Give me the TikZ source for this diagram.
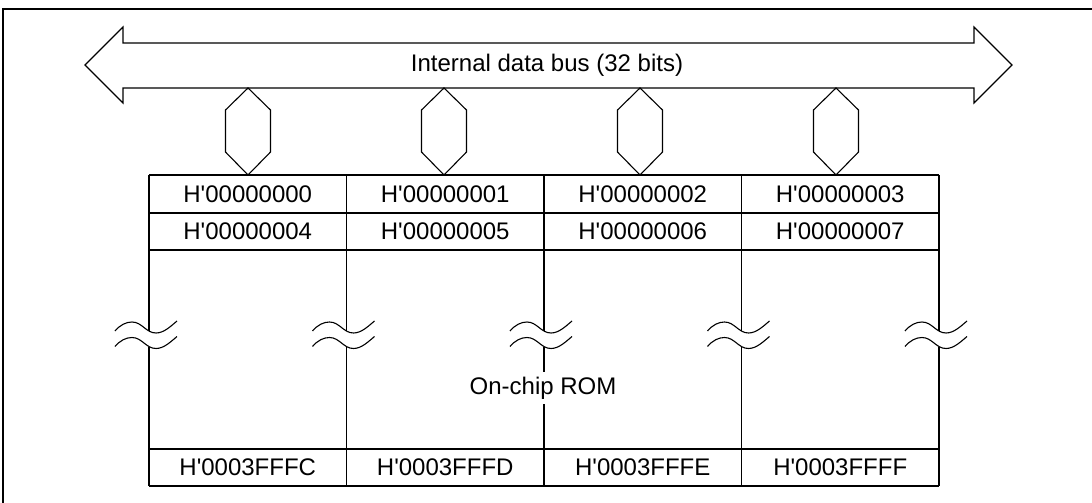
\documentclass[tikz,border=0pt]{standalone}
\usepackage{fontspec}
\setmainfont{Liberation Sans}[Ligatures=TeXOff]
\begin{document}
\begin{tikzpicture}[x=1pt,y=-1pt,
  line/.style={line width=1.1pt,line join=miter},
  lbl/.style={font=\fontsize{24}{28}\selectfont,inner sep=0pt,anchor=center},
  ]
\useasboundingbox (0,0) rectangle (1092,503);
% frame
\draw[line] (3,503) -- (3,9) -- (1092,9);
% bus arrow
\draw[line] (85,65) -- (123,27) -- (123,43) -- (974,43) -- (974,27) -- (1012,65)
  -- (974,103) -- (974,88) -- (123,88) -- (123,103) -- cycle;
\node[lbl] (bus) at (547,65) {Internal data bus (32 bits)};
% hexagon connectors
\foreach \cx in {248,444,640,836}{
  \draw[line] (\cx,88) -- (\cx+22.5,110) -- (\cx+22.5,152) -- (\cx,175)
    -- (\cx-22.5,152) -- (\cx-22.5,110) -- cycle;
}
% table horizontal lines
\foreach \yy in {175,213,250,449,486}{
  \draw[line] (149,\yy) -- (939,\yy);
}
% vertical lines in top rows and bottom row
\foreach \xx in {149,346.5,544,741.5,939}{
  \draw[line] (\xx,175) -- (\xx,250);
  \draw[line] (\xx,449) -- (\xx,486);
  % broken lower section
  \draw[line] (\xx,250) -- (\xx,331);
  \draw[line] (\xx,346.5) -- (\xx,449);
  % wave marks
  \foreach \dy in {0,15.5}{
    \draw[line] (\xx-34,331+\dy) .. controls (\xx-29,325+\dy) and (\xx-23,322+\dy) .. (\xx-17,322+\dy)
      .. controls (\xx-7,322+\dy) and (\xx-3,333+\dy) .. (\xx+7,333+\dy)
      .. controls (\xx+15,333+\dy) and (\xx+22,326+\dy) .. (\xx+28,321+\dy);
  }
}
% On-chip ROM label breaks the middle divider
\node[lbl,fill=white,inner ysep=5pt,inner xsep=3pt] (rom) at (543,388) {On-chip ROM};
% address labels
\node[lbl] (a0) at (247.75,194) {H'00000000};
\node[lbl] (a1) at (445.25,194) {H'00000001};
\node[lbl] (a2) at (642.75,194) {H'00000002};
\node[lbl] (a3) at (840.25,194) {H'00000003};
\node[lbl] (a4) at (247.75,231.5) {H'00000004};
\node[lbl] (a5) at (445.25,231.5) {H'00000005};
\node[lbl] (a6) at (642.75,231.5) {H'00000006};
\node[lbl] (a7) at (840.25,231.5) {H'00000007};
\node[lbl] (b0) at (247.75,467.5) {H'0003FFFC};
\node[lbl] (b1) at (445.25,467.5) {H'0003FFFD};
\node[lbl] (b2) at (642.75,467.5) {H'0003FFFE};
\node[lbl] (b3) at (840.25,467.5) {H'0003FFFF};
\end{tikzpicture}
\end{document}
